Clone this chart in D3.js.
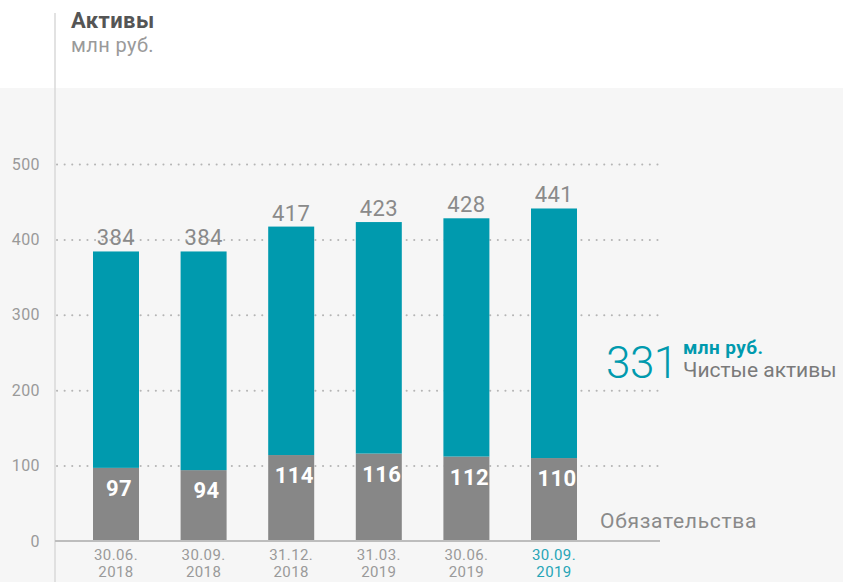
<!DOCTYPE html>
<html>
  <head>
    <meta charset="utf-8" />
    <style>
      body { margin: 0; background: #fff; }
      svg text { font-family: Roboto, "Open Sans", sans-serif; letter-spacing: 0.4px; }
    </style>
  </head>
  <body>
    <svg class="chart"></svg>

    <script src="https://d3js.org/d3.v7.min.js"></script>
    <script>
      // values
      var dates = ["30.06.2018", "30.09.2018", "31.12.2018", "31.03.2019", "30.06.2019", "30.09.2019"];
      var totals = [384, 384, 417, 423, 428, 441];
      var liabilities = [97, 94, 114, 116, 112, 110];
      var yTicks = [0, 100, 200, 300, 400, 500];

      var width = 843,
        height = 582,
        barWidth = 46;

      var teal = "#009aae",
        grey = "#878787",
        textGrey = "#9a9a9a";

      var data = dates.map(function (d, i) {
        return { date: d, total: totals[i], liab: liabilities[i], net: totals[i] - liabilities[i] };
      });

      var stacked = d3.stack().keys(["liab", "net"])(data);

      var x = d3.scalePoint().domain(dates).range([116, 554]);
      var y = d3.scaleLinear().domain([0, 500]).range([541, 164]);

      var svg = d3.select(".chart").attr("width", width).attr("height", height);

      // grey panel behind the plot
      svg.append("rect")
        .attr("x", 0).attr("y", 88)
        .attr("width", width).attr("height", height - 88)
        .attr("fill", "#f6f6f6");

      // vertical axis line
      svg.append("line")
        .attr("x1", 55).attr("x2", 55)
        .attr("y1", 13).attr("y2", height)
        .attr("stroke", "#d9d9d9").attr("stroke-width", 1.5);

      // dotted grid + tick labels
      var yAxis = d3.axisLeft(y).tickValues(yTicks).tickSize(0).tickPadding(15);
      var gy = svg.append("g").attr("transform", "translate(55,0)").call(yAxis);
      gy.select(".domain").remove();
      gy.selectAll("text")
        .attr("fill", textGrey)
        .style("font-size", "16px");
      gy.selectAll(".tick")
        .filter(function (d) { return d > 0; })
        .append("line")
        .attr("x1", 2).attr("x2", 607)
        .attr("stroke", "#b5b5b5")
        .attr("stroke-width", 2)
        .attr("stroke-linecap", "round")
        .attr("stroke-dasharray", "0.1 7.5");

      // stacked bars
      var colors = { liab: grey, net: teal };
      svg.selectAll("g.layer")
        .data(stacked)
        .enter()
        .append("g")
        .attr("class", "layer")
        .attr("fill", function (s) { return colors[s.key]; })
        .selectAll("rect")
        .data(function (s) { return s; })
        .enter()
        .append("rect")
        .attr("x", function (d) { return x(d.data.date) - barWidth / 2; })
        .attr("y", function (d) { return y(d[1]); })
        .attr("width", barWidth)
        .attr("height", function (d) { return y(d[0]) - y(d[1]); });

      // baseline
      svg.append("line")
        .attr("x1", 55).attr("x2", 660)
        .attr("y1", y(0)).attr("y2", y(0))
        .attr("stroke", "#bdbdbd").attr("stroke-width", 2);

      // totals above bars
      svg.selectAll("text.total")
        .data(data)
        .enter()
        .append("text")
        .attr("class", "total")
        .attr("x", function (d) { return x(d.date); })
        .attr("y", function (d) { return y(d.total) - 6; })
        .attr("text-anchor", "middle")
        .attr("fill", "#8a8a8a")
        .style("font-size", "22px")
        .text(function (d) { return d.total; });

      // liabilities inside grey part
      svg.selectAll("text.liab")
        .data(data)
        .enter()
        .append("text")
        .attr("class", "liab")
        .attr("x", function (d) { return x(d.date) + 3; })
        .attr("y", function (d) { return y(d.liab) + 28; })
        .attr("text-anchor", "middle")
        .attr("fill", "#fff")
        .style("font-size", "22px")
        .style("font-weight", "bold")
        .text(function (d) { return d.liab; });

      // date labels, two lines
      function dateLine(cls, yPos, part) {
        svg.selectAll("text." + cls)
          .data(data)
          .enter()
          .append("text")
          .attr("class", cls)
          .attr("x", function (d) { return x(d.date); })
          .attr("y", yPos)
          .attr("text-anchor", "middle")
          .attr("fill", function (d, i) { return i === data.length - 1 ? "#27a5b7" : textGrey; })
          .style("font-size", "15px")
          .text(part);
      }
      dateLine("date1", 560, function (d) { return d.date.slice(0, 6); });
      dateLine("date2", 577, function (d) { return d.date.slice(6); });

      // title
      svg.append("text")
        .attr("x", 71).attr("y", 28)
        .attr("fill", "#555")
        .style("font-size", "22px")
        .style("font-weight", "bold")
        .text("Активы");
      svg.append("text")
        .attr("x", 71).attr("y", 52)
        .attr("fill", textGrey)
        .style("font-size", "20px")
        .text("млн руб.");

      // net assets callout for the latest date
      var last = data[data.length - 1];
      svg.append("text")
        .attr("x", 606).attr("y", 378)
        .attr("fill", teal)
        .style("font-size", "44px")
        .style("font-weight", 300)
        .style("letter-spacing", "-0.5px")
        .text(last.net);
      svg.append("text")
        .attr("x", 683).attr("y", 354)
        .attr("fill", teal)
        .style("font-size", "19px")
        .style("font-weight", "bold")
        .text("млн руб.");
      svg.append("text")
        .attr("x", 683).attr("y", 377)
        .attr("fill", "#7a7a7a")
        .style("font-size", "21px")
        .style("letter-spacing", "0px")
        .text("Чистые активы");

      svg.append("text")
        .attr("x", 600).attr("y", 528)
        .attr("fill", "#8a8a8a")
        .style("font-size", "21px")
        .style("letter-spacing", "0.7px")
        .text("Обязательства");
    </script>
  </body>
</html>
